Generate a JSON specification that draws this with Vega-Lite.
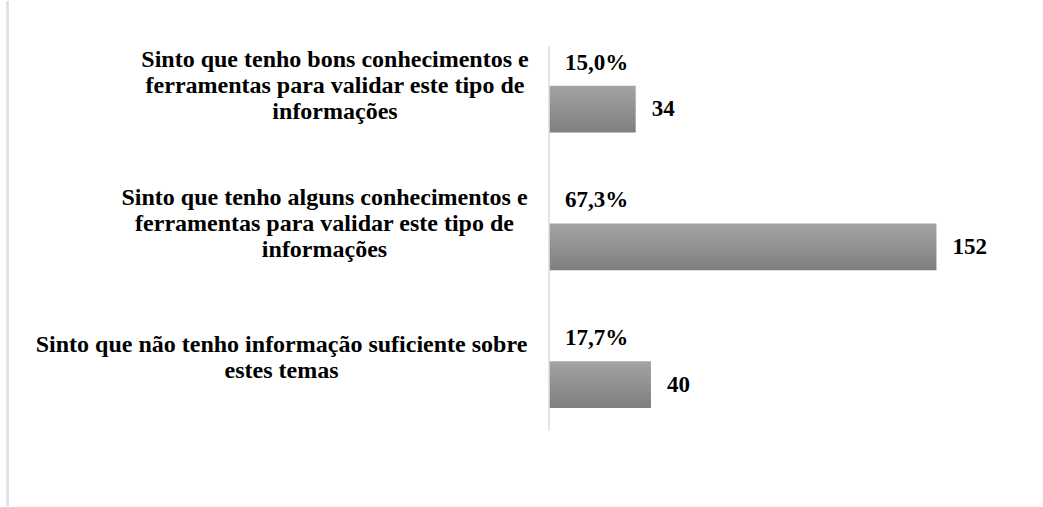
{
  "$schema": "https://vega.github.io/schema/vega-lite/v6.json",
  "width": 1043,
  "height": 507,
  "autosize": {"type": "fit", "contains": "padding"},
  "padding": 0,
  "background": "white",
  "config": {
    "view": {"stroke": null},
    "font": "Liberation Serif, Times New Roman, serif",
    "locale": {"number": {"decimal": ",", "thousands": ".", "grouping": [3], "currency": ["", " €"]}}
  },
  "data": {
    "values": [
      {"cat": "Sinto que tenho bons conhecimentos e\nferramentas para validar este tipo de\ninformações", "count": 34, "pct": 0.150},
      {"cat": "Sinto que tenho alguns conhecimentos e\nferramentas para validar este tipo de\ninformações", "count": 152, "pct": 0.673},
      {"cat": "Sinto que não tenho informação suficiente sobre\nestes temas", "count": 40, "pct": 0.177}
    ]
  },
  "encoding": {
    "y": {
      "field": "cat", "type": "nominal",
      "scale": {
        "type": "band",
        "domain": [
          "Sinto que tenho bons conhecimentos e\nferramentas para validar este tipo de\ninformações",
          "Sinto que tenho alguns conhecimentos e\nferramentas para validar este tipo de\ninformações",
          "Sinto que não tenho informação suficiente sobre\nestes temas"
        ],
        "paddingInner": 0, "paddingOuter": 0.3336, "align": 0.183
      },
      "axis": {
        "title": null, "domain": false, "ticks": false, "tickSize": 0, "offset": -549,
        "labelExpr": "split(datum.label, '\\n')",
        "labelFont": "Liberation Serif, Times New Roman, serif", "labelFontWeight": "bold", "labelFontSize": 24,
        "labelColor": "#000000", "labelAlign": "center", "labelBaseline": "middle",
        "labelLineHeight": 26, "labelLimit": 0,
        "labelPadding": {"expr": "indexof(datum.value, 'bons') >= 0 ? 214.5 : (indexof(datum.value, 'alguns') >= 0 ? 225 : 268)"},
        "labelOffset": {"expr": "indexof(datum.value, 'suficiente') >= 0 ? -17.5 : -26.5"}
      }
    }
  },
  "layer": [
    {
      "mark": {
        "type": "bar",
        "height": {"band": 0.34},
        "yOffset": 22.5,
        "color": {"gradient": "linear", "x1": 0, "y1": 0, "x2": 0, "y2": 1, "stops": [{"offset": 0, "color": "#a3a3a3"}, {"offset": 1, "color": "#7f7f7f"}]}
      },
      "encoding": {
        "x": {"field": "count", "type": "quantitative", "scale": {"domain": [-215.4, 193.8], "nice": false, "zero": false}, "axis": null},
        "x2": {"datum": 0}
      }
    },
    {
      "mark": {"type": "text", "align": "left", "baseline": "middle", "dx": 16, "dy": -24, "fontSize": 23, "fontWeight": "bold", "color": "#000000"},
      "encoding": {
        "x": {"datum": 0, "type": "quantitative"},
        "text": {"field": "pct", "type": "quantitative", "format": ".1%"}
      }
    },
    {
      "mark": {"type": "text", "align": "left", "baseline": "middle", "dx": 16, "dy": 22.5, "fontSize": 23, "fontWeight": "bold", "color": "#000000"},
      "encoding": {
        "x": {"field": "count", "type": "quantitative"},
        "text": {"field": "count", "type": "quantitative"}
      }
    },
    {
      "mark": {"type": "rule", "color": "#dbe1e8", "strokeWidth": 2},
      "encoding": {"x": {"datum": -212.4, "type": "quantitative"}, "y": null}
    },
    {
      "data": {"values": [{"a": "Sinto que tenho bons conhecimentos e\nferramentas para validar este tipo de\ninformações", "b": "Sinto que não tenho informação suficiente sobre\nestes temas"}]},
      "mark": {"type": "rule", "color": "#d9dde3", "strokeWidth": 1.5},
      "encoding": {
        "x": {"datum": 0, "type": "quantitative"},
        "y": {"field": "a", "type": "nominal", "bandPosition": 0.2034},
        "y2": {"field": "b", "bandPosition": 1}
      }
    }
  ]
}
